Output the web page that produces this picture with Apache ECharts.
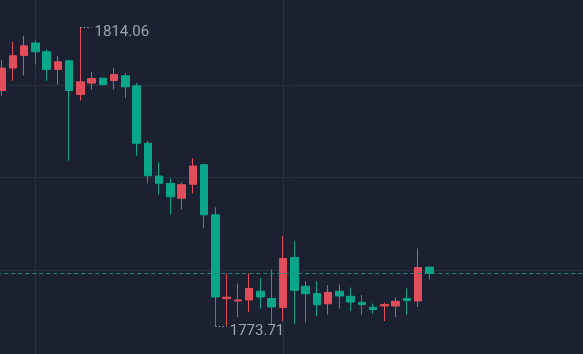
<!DOCTYPE html>
<html>
<head>
<meta charset="utf-8">
<style>
  html, body { margin: 0; padding: 0; background: #1b2130; }
  #k-line-chart { width: 583px; height: 354px; }
</style>
<script src="https://cdn.jsdelivr.net/npm/echarts@6/dist/echarts.min.js"></script>
</head>
<body>
<div id="k-line-chart"></div>
<script>
var opens = [1805.49, 1808.52, 1810.22, 1811.90, 1810.72, 1808.33, 1809.50, 1804.95, 1806.49, 1807.16,
  1806.84, 1807.47, 1806.12, 1798.37, 1793.95, 1792.96, 1790.94, 1792.83, 1795.48, 1788.72,
  1777.41, 1777.09, 1777.22, 1778.40, 1777.41, 1776.20, 1782.96, 1779.08, 1778.09, 1776.71,
  1778.40, 1777.72, 1776.91, 1776.24, 1776.41, 1776.41, 1777.41, 1777.09, 1781.65];
var closes = [1808.52, 1810.18, 1811.53, 1810.72, 1808.33, 1809.37, 1805.49, 1806.66, 1807.11, 1806.30,
  1807.65, 1805.99, 1798.37, 1793.99, 1792.96, 1791.15, 1792.78, 1795.30, 1788.72, 1777.63,
  1777.59, 1777.22, 1778.77, 1777.63, 1776.28, 1782.82, 1778.53, 1778.06, 1776.57, 1778.24,
  1777.76, 1776.95, 1776.60, 1775.93, 1776.60, 1777.05, 1777.14, 1781.60, 1780.79];
var lows = [1804.77, 1806.80, 1807.52, 1809.00, 1806.80, 1806.30, 1796.02, 1804.13, 1805.62, 1806.16,
  1805.62, 1804.46, 1796.66, 1792.96, 1791.48, 1788.77, 1789.45, 1791.61, 1786.88, 1773.71,
  1773.75, 1774.92, 1775.56, 1776.06, 1773.80, 1774.38, 1774.03, 1774.18, 1775.05, 1775.25,
  1776.06, 1775.74, 1775.20, 1775.38, 1774.38, 1774.92, 1775.25, 1776.28, 1779.98];
var highs = [1809.64, 1812.07, 1812.88, 1812.21, 1811.03, 1810.18, 1809.64, 1814.06, 1808.02, 1807.20,
  1808.52, 1807.84, 1806.49, 1798.68, 1795.80, 1793.64, 1793.10, 1796.35, 1795.57, 1789.72,
  1780.79, 1779.44, 1780.79, 1780.16, 1781.33, 1785.84, 1785.16, 1779.75, 1779.75, 1779.25,
  1779.31, 1778.90, 1777.90, 1776.74, 1776.87, 1777.55, 1778.77, 1784.17, 1781.78];
var gridPrices = [1781.25, 1793.75, 1806.25];

var upColor = '#e14d5a';
var downColor = '#0ba68a';
var gridColor = '#283040';
var textColor = '#9fa3ad';

var padBefore = 1;
var padAfter = 14;

var KLineChart = echarts.init(document.getElementById('k-line-chart'));

function buildCategories () {
  var total = padBefore + opens.length + padAfter;
  var cats = [];
  for (var i = 0; i < total; i++) {
    cats.push('b' + i);
  }
  return cats;
}

function buildValues () {
  var values = [];
  for (var i = 0; i < padBefore; i++) {
    values.push('-');
  }
  for (var j = 0; j < opens.length; j++) {
    values.push([opens[j], closes[j], lows[j], highs[j]]);
  }
  for (var k = 0; k < padAfter; k++) {
    values.push('-');
  }
  return values;
}

var categories = buildCategories();
var maxHigh = Math.max.apply(null, highs);
var minLow = Math.min.apply(null, lows);
var hiIdx = highs.indexOf(maxHigh) + padBefore;
var loIdx = lows.indexOf(minLow) + padBefore;
var lastClose = closes[closes.length - 1];
var step = gridPrices[1] - gridPrices[0];

var option = {
  backgroundColor: '#1b2130',
  animation: false,
  grid: {
    left: -9.76,
    top: -7.75,
    width: 596.8,
    height: 370.5,
    outerBoundsMode: 'none'
  },
  xAxis: {
    type: 'category',
    data: categories,
    boundaryGap: false,
    axisLine: { show: false },
    axisTick: { show: false },
    axisLabel: { show: false },
    splitLine: {
      show: true,
      interval: function (index) {
        return index === 3 + padBefore || index === 25 + padBefore;
      },
      lineStyle: { color: gridColor, width: 1 }
    }
  },
  yAxis: {
    type: 'value',
    min: gridPrices[0] - step,
    max: gridPrices[2] + step,
    interval: step,
    axisLine: { show: false },
    axisTick: { show: false },
    axisLabel: { show: false },
    splitLine: { lineStyle: { color: gridColor, width: 1 } }
  },
  series: [{
    type: 'candlestick',
    data: buildValues(),
    barWidth: 8,
    clip: false,
    itemStyle: {
      color: upColor,
      color0: downColor,
      borderColor: upColor,
      borderColor0: downColor,
      borderWidth: 1
    },
    markLine: {
      silent: true,
      symbol: 'none',
      animation: false,
      label: { show: false },
      data: [
        { yAxis: lastClose, lineStyle: { color: '#1d8572', type: [4, 3], width: 1 } },
        [
          { coord: [categories[hiIdx], maxHigh], lineStyle: { color: '#d0d3da', type: [1, 2.6], width: 1 } },
          { coord: [categories[hiIdx + 1], maxHigh] }
        ],
        [
          { coord: [categories[loIdx], minLow], lineStyle: { color: '#d0d3da', type: [1, 2.6], width: 1 } },
          { coord: [categories[loIdx + 1], minLow] }
        ]
      ]
    },
    markPoint: {
      silent: true,
      symbol: 'circle',
      symbolSize: 0,
      animation: false,
      label: {
        show: true,
        position: 'right',
        distance: 3,
        offset: [0, 5],
        color: textColor,
        fontFamily: 'Roboto',
        fontSize: 15,
        formatter: function (p) {
          return p.value.toFixed(2);
        }
      },
      data: [
        { coord: [categories[hiIdx + 1], maxHigh], value: maxHigh },
        { coord: [categories[loIdx + 1], minLow], value: minLow }
      ]
    }
  }]
};

KLineChart.setOption(option);
</script>
</body>
</html>
